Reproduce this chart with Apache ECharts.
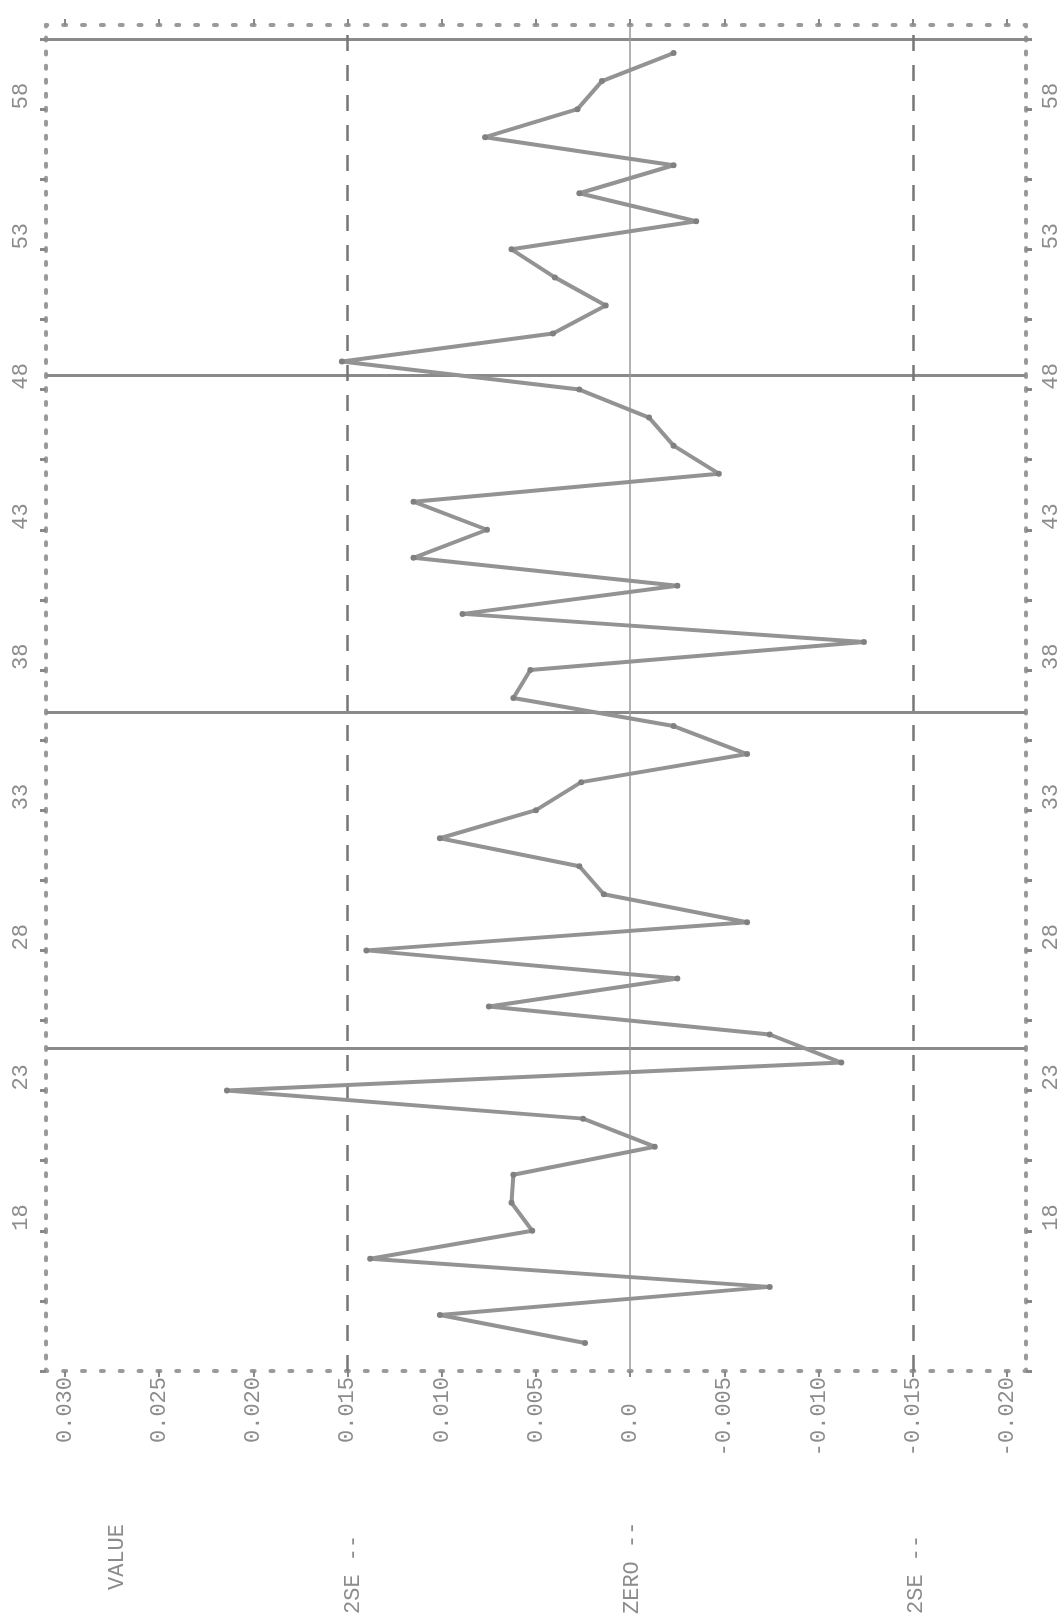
<!DOCTYPE html>
<html><head><meta charset="utf-8">
<script src="https://cdn.jsdelivr.net/npm/echarts@6/dist/echarts.min.js"></script>
<style>html,body{margin:0;padding:0;background:#fff;}#c{width:1062px;height:1621px;}</style>
</head><body><div id="c"></div>
<script>
// ---- data ----
const periods = [14,15,16,17,18,19,20,21,22,23,24,25,26,27,28,29,30,31,32,33,34,35,36,37,38,39,40,41,42,43,44,45,46,47,48,49,50,51,52,53,54,55,56,57,58,59,60];
const values = [0.0024,0.0101,-0.0074,0.0138,0.0052,0.0063,0.0062,-0.0013,0.0025,0.0214,
  -0.0112,-0.0074,0.0075,-0.0025,0.0140,-0.0062,0.0014,0.0027,0.0101,0.0050,
  0.0026,-0.0062,-0.0023,0.0062,0.0053,-0.0124,0.0089,-0.0025,0.0115,0.0076,
  0.0115,-0.0047,-0.0023,-0.0010,0.0027,0.0153,0.0041,0.0013,0.0040,0.0063,
  -0.0035,0.0027,-0.0023,0.0077,0.0028,0.0015,-0.0023];
const valueTicks = [-0.020,-0.015,-0.010,-0.005,0,0.005,0.010,0.015,0.020,0.025,0.030];
const periodTicks = [13,15.5,18,20.5,23,25.5,28,30.5,33,35.5,38,40.5,43,45.5,48,50.5,53,55.5,58,60.5];
const periodLabels = [18,23,28,33,38,43,48,53,58];
const yearBreaks = [24.5,36.5,48.5,60.5];
const limitValues = [0.015,-0.015];
const zeroValue = 0;
const titleText = 'VALUE';
const limitText = '2SE --';
const zeroText = 'ZERO --';

const MONO = '"Liberation Mono","DejaVu Sans Mono",monospace';
const INK = '#8c8c8c';
const chart = echarts.init(document.getElementById('c'), null, {renderer:'canvas'});

function fmt(v){
  if (Math.abs(v) < 1e-9) return '0.0  ';
  return (v < 0 ? '-' : '') + Math.abs(v).toFixed(3);
}
const dotX = {show:true, onZero:false, lineStyle:{color:'#9a9a9a', width:4, type:[3,15.85], dashOffset:1.5}};
const dotY = {show:true, onZero:false, lineStyle:{color:'#9a9a9a', width:4, type:[3,11.02], dashOffset:1.5}};

const yAxisBase = (pos) => ({
  type:'value', min:13, max:61, position:pos,
  axisLine:dotY, splitLine:{show:false},
  axisTick:{show:true, customValues:periodTicks, length:6, lineStyle:{color:'#888', width:3}},
  axisLabel:{show:true, customValues:periodLabels, rotate:90, align:'left', margin:14,
    fontFamily:MONO, fontSize:22, color:INK}
});

const option = {
  animation:false,
  backgroundColor:'#ffffff',
  grid:{left:46, right:36, top:25, bottom:250, containLabel:false},
  xAxis:[{
    type:'value', inverse:true, min:-0.021, max:0.031, position:'bottom',
    axisLine:dotX,
    splitLine:{show:false},
    axisTick:{show:true, customValues:valueTicks, length:6, inside:false, lineStyle:{color:'#888', width:2}},
    axisLabel:{show:true, customValues:valueTicks, rotate:90, margin:6, formatter:fmt,
      fontFamily:MONO, fontSize:22, color:INK}
  },{
    type:'value', inverse:true, min:-0.021, max:0.031, position:'top',
    axisLine:dotX,
    splitLine:{show:false},
    axisTick:{show:true, customValues:valueTicks, length:6, lineStyle:{color:'#888', width:2}},
    axisLabel:{show:false}
  }],
  yAxis:[yAxisBase('left'), yAxisBase('right')],
  series:[{
    type:'line', xAxisIndex:0, yAxisIndex:0,
    data: periods.map((p,i)=>[values[i], p]),
    symbol:'circle', symbolSize:6,
    itemStyle:{color:'#808080'},
    lineStyle:{color:'#939393', width:4},
    z:5,
    markLine:{
      silent:true, precision:6, symbol:['none','none'], label:{show:false}, animation:false,
      data:[
        ...yearBreaks.map(b=>({yAxis:b, lineStyle:{type:'solid', width:3, color:'#8a8a8a'}})),
        ...limitValues.map(v=>({xAxis:v, lineStyle:{type:[16,14], width:2.5, color:'#777'}})),
        {xAxis:zeroValue, lineStyle:{type:'solid', width:1.5, color:'#999'}}
      ]
    }
  }]
};
chart.setOption(option);

// bottom annotations positioned at reference-line columns
const baseY = 1614;
const txt = (x, y, s) => ({type:'text', x:x, y:y, rotation:Math.PI/2,
  style:{text:s, font:'22px '+MONO, fill:INK, textAlign:'left', textVerticalAlign:'middle'}});
const gx = v => chart.convertToPixel({xAxisIndex:0}, v);
chart.setOption({graphic:[
  txt(117, 1590, titleText),
  txt(gx(limitValues[0]) + 6, baseY, limitText),
  txt(gx(zeroValue) + 2, baseY, zeroText),
  txt(gx(limitValues[1]) + 3, baseY, limitText)
]});
</script></body></html>
